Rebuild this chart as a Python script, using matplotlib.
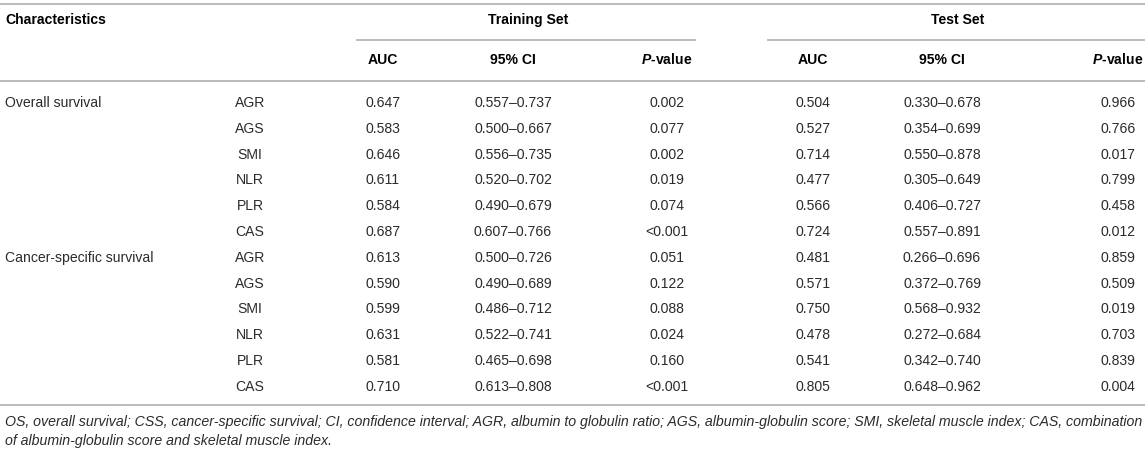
import matplotlib
matplotlib.use("Agg")
import matplotlib.pyplot as plt

plt.rcParams['font.family'] = ['Liberation Sans', 'DejaVu Sans']
plt.rcParams['mathtext.fontset'] = 'custom'
plt.rcParams['mathtext.it'] = 'Liberation Sans:italic:bold'

groups = ["Overall survival", "Cancer-specific survival"]
features = ["AGR", "AGS", "SMI", "NLR", "PLR", "CAS"]

train_auc = ["0.647", "0.583", "0.646", "0.611", "0.584", "0.687",
             "0.613", "0.590", "0.599", "0.631", "0.581", "0.710"]
train_ci = ["0.557–0.737", "0.500–0.667", "0.556–0.735", "0.520–0.702", "0.490–0.679", "0.607–0.766",
            "0.500–0.726", "0.490–0.689", "0.486–0.712", "0.522–0.741", "0.465–0.698", "0.613–0.808"]
train_p = ["0.002", "0.077", "0.002", "0.019", "0.074", "<0.001",
           "0.051", "0.122", "0.088", "0.024", "0.160", "<0.001"]
test_auc = ["0.504", "0.527", "0.714", "0.477", "0.566", "0.724",
            "0.481", "0.571", "0.750", "0.478", "0.541", "0.805"]
test_ci = ["0.330–0.678", "0.354–0.699", "0.550–0.878", "0.305–0.649", "0.406–0.727", "0.557–0.891",
           "0.266–0.696", "0.372–0.769", "0.568–0.932", "0.272–0.684", "0.342–0.740", "0.648–0.962"]
test_p = ["0.966", "0.766", "0.017", "0.799", "0.458", "0.012",
          "0.859", "0.509", "0.019", "0.703", "0.839", "0.004"]

footnote = ["OS, overall survival; CSS, cancer-specific survival; CI, confidence interval; AGR, albumin to globulin ratio; "
            "AGS, albumin-globulin score; SMI, skeletal muscle index; CAS, combination",
            "of albumin-globulin score and skeletal muscle index."]

W, H = 1145, 454
fig = plt.figure(figsize=(W / 100, H / 100), dpi=100)
ax = fig.add_axes([0, 0, 1, 1])
ax.set_xlim(0, W)
ax.set_ylim(H, 0)
ax.axis('off')

fs = 10.1
txt = '#2b2b2b'
line_c = '#b5b5b5'
lw = 1.3

# rules
ax.plot([0, W], [4, 4], color=line_c, lw=lw)
ax.plot([357, 695], [40, 40], color=line_c, lw=lw)
ax.plot([768, W], [40, 40], color=line_c, lw=lw)
ax.plot([0, W], [81, 81], color=line_c, lw=lw)
ax.plot([0, W], [405, 405], color=line_c, lw=lw)

# headers
ax.text(5, 20, "Characteristics", fontsize=fs, fontweight='bold', ha='left', va='center', color='black')
ax.text(528, 20, "Training Set", fontsize=fs, fontweight='bold', ha='center', va='center', color='black')
ax.text(958, 20, "Test Set", fontsize=fs, fontweight='bold', ha='center', va='center', color='black')

cols = [383, 513, 667, 813, 942, 1118]
for cx in [cols[0], cols[3]]:
    ax.text(cx, 60, "AUC", fontsize=fs, fontweight='bold', ha='center', va='center', color='black')
for cx in [cols[1], cols[4]]:
    ax.text(cx, 60, "95% CI", fontsize=fs, fontweight='bold', ha='center', va='center', color='black')
for cx in [cols[2], cols[5]]:
    ax.text(cx, 60, r"$\it{P}$" + "-value", fontsize=fs, fontweight='bold', ha='center', va='center',
            color='black')

y0, dy = 103, 25.8
for i in range(12):
    y = y0 + i * dy
    if i % 6 == 0:
        ax.text(5, y, groups[i // 6], fontsize=fs, ha='left', va='center', color=txt)
    ax.text(250, y, features[i % 6], fontsize=fs, ha='center', va='center', color=txt)
    vals = [train_auc[i], train_ci[i], train_p[i], test_auc[i], test_ci[i], test_p[i]]
    for cx, v in zip(cols, vals):
        ax.text(cx, y, v, fontsize=fs, ha='center', va='center', color=txt)

ax.text(5, 422, footnote[0], fontsize=10.2, style='italic', ha='left', va='center', color=txt)
ax.text(5, 441, footnote[1], fontsize=10.2, style='italic', ha='left', va='center', color=txt)

fig.savefig("out.png", dpi=100)
